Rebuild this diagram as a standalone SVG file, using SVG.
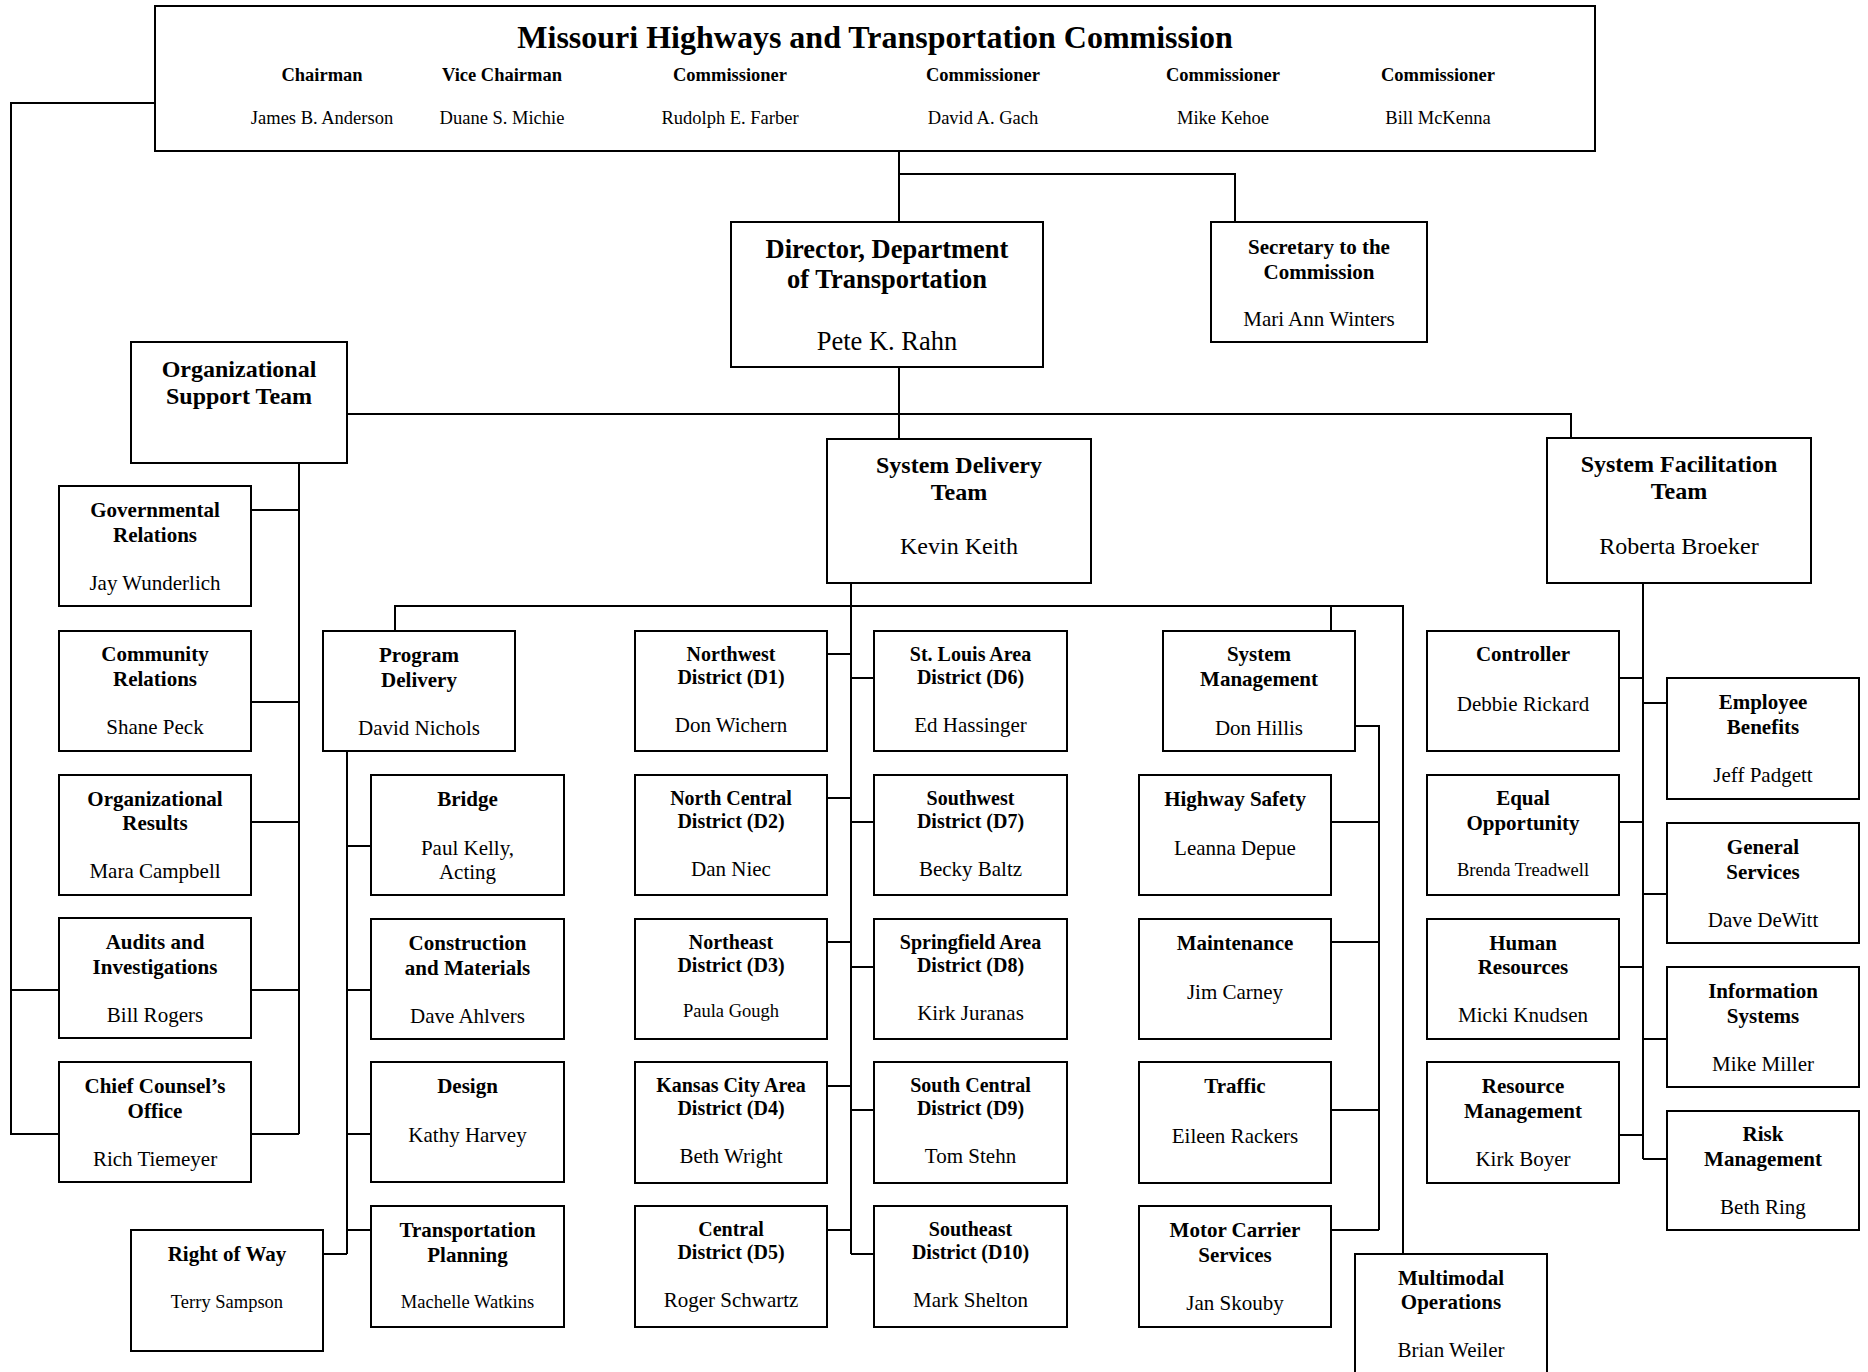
<svg xmlns="http://www.w3.org/2000/svg" width="1868" height="1372" viewBox="0 0 1868 1372">
<style>
.bg{fill:#fff}
.box{fill:#fff;stroke:#000;stroke-width:2}
.con{fill:none;stroke:#000;stroke-width:2}
text{font-family:"Liberation Serif","Times New Roman",serif;text-anchor:middle;fill:#000}
.b{font-weight:bold;font-size:21px}
.n{font-size:21px}
.s{font-size:18.5px}
.d{font-weight:bold;font-size:20px}
.tb{font-weight:bold;font-size:24px}
.tn{font-size:24px}
.cb{font-weight:bold;font-size:18.5px}
.dir{font-weight:bold;font-size:26.5px}
.dirn{font-size:26.5px}
.title{font-weight:bold;font-size:32px}
</style>
<rect class="bg" x="0" y="0" width="1868" height="1372"/>
<g id="connectors">
<path class="con" d="M155,103 H11 V1134 H59"/>
<path class="con" d="M11,990 H59"/>
<path class="con" d="M899,151 V222"/>
<path class="con" d="M899,174 H1235 V222"/>
<path class="con" d="M899,367 V439"/>
<path class="con" d="M347,414 H1571 V438"/>
<path class="con" d="M299,463 V1134"/>
<path class="con" d="M251,510 H299 M251,702 H299 M251,822 H299 M251,990 H299 M251,1134 H299"/>
<path class="con" d="M851,583 V1254"/>
<path class="con" d="M395,631 V606 H1403 V1254"/>
<path class="con" d="M1331,606 V631"/>
<path class="con" d="M347,751 V1254 M347,846 H371 M347,990 H371 M347,1134 H371 M347,1230 H371 M323,1254 H347"/>
<path class="con" d="M827,654 H851 M827,798 H851 M827,942 H851 M827,1086 H851 M827,1230 H851"/>
<path class="con" d="M851,678 H874 M851,822 H874 M851,967 H874 M851,1110 H874 M851,1254 H874"/>
<path class="con" d="M1355,726 H1379 V1230 M1331,822 H1379 M1331,942 H1379 M1331,1110 H1379 M1331,1230 H1379"/>
<path class="con" d="M1643,583 V1159 M1619,678 H1643 M1619,822 H1643 M1619,967 H1643 M1619,1135 H1643"/>
<path class="con" d="M1643,703 H1667 M1643,894 H1667 M1643,1039 H1667 M1643,1159 H1667"/>
</g>
<g id="commission">
<rect class="box" x="155" y="6" width="1440" height="145"/>
<text class="title" x="875" y="47.5">Missouri Highways and Transportation Commission</text>
<text class="cb" x="322" y="81">Chairman</text>
<text class="cb" x="502" y="81">Vice Chairman</text>
<text class="cb" x="730" y="81">Commissioner</text>
<text class="cb" x="983" y="81">Commissioner</text>
<text class="cb" x="1223" y="81">Commissioner</text>
<text class="cb" x="1438" y="81">Commissioner</text>
<text class="s" x="322" y="124">James B. Anderson</text>
<text class="s" x="502" y="124">Duane S. Michie</text>
<text class="s" x="730" y="124">Rudolph E. Farber</text>
<text class="s" x="983" y="124">David A. Gach</text>
<text class="s" x="1223" y="124">Mike Kehoe</text>
<text class="s" x="1438" y="124">Bill McKenna</text>
</g>
<g id="director">
<rect class="box" x="731" y="222" width="312" height="145"/>
<text class="dir" x="887" y="258">Director, Department</text>
<text class="dir" x="887" y="288">of Transportation</text>
<text class="dirn" x="887" y="350">Pete K. Rahn</text>
</g>
<g id="secretary">
<rect class="box" x="1211" y="222" width="216" height="120"/>
<text class="b" x="1319" y="254">Secretary to the</text>
<text class="b" x="1319" y="279">Commission</text>
<text class="n" x="1319" y="326">Mari Ann Winters</text>
</g>
<g id="org-support">
<rect class="box" x="131" y="342" width="216" height="121"/>
<text class="tb" x="239" y="377">Organizational</text>
<text class="tb" x="239" y="404">Support Team</text>
</g>
<g id="system-delivery">
<rect class="box" x="827" y="439" width="264" height="144"/>
<text class="tb" x="959" y="473">System Delivery</text>
<text class="tb" x="959" y="500">Team</text>
<text class="tn" x="959" y="554">Kevin Keith</text>
</g>
<g id="system-facilitation">
<rect class="box" x="1547" y="438" width="264" height="145"/>
<text class="tb" x="1679" y="472">System Facilitation</text>
<text class="tb" x="1679" y="499">Team</text>
<text class="tn" x="1679" y="553.5">Roberta Broeker</text>
</g>
<g id="governmental-relations">
<rect class="box" x="59" y="486" width="192" height="120"/>
<text class="b" x="155" y="517">Governmental</text>
<text class="b" x="155" y="541.5">Relations</text>
<text class="n" x="155" y="589.5">Jay Wunderlich</text>
</g>
<g id="community-relations">
<rect class="box" x="59" y="631" width="192" height="120"/>
<text class="b" x="155" y="661">Community</text>
<text class="b" x="155" y="686">Relations</text>
<text class="n" x="155" y="734">Shane Peck</text>
</g>
<g id="organizational-results">
<rect class="box" x="59" y="775" width="192" height="120"/>
<text class="b" x="155" y="806">Organizational</text>
<text class="b" x="155" y="830">Results</text>
<text class="n" x="155" y="878">Mara Campbell</text>
</g>
<g id="audits">
<rect class="box" x="59" y="918" width="192" height="120"/>
<text class="b" x="155" y="949">Audits and</text>
<text class="b" x="155" y="973.5">Investigations</text>
<text class="n" x="155" y="1021.5">Bill Rogers</text>
</g>
<g id="chief-counsel">
<rect class="box" x="59" y="1062" width="192" height="120"/>
<text class="b" x="155" y="1093">Chief Counsel’s</text>
<text class="b" x="155" y="1117.5">Office</text>
<text class="n" x="155" y="1165.5">Rich Tiemeyer</text>
</g>
<g id="program-delivery">
<rect class="box" x="323" y="631" width="192" height="120"/>
<text class="b" x="419" y="662">Program</text>
<text class="b" x="419" y="686.5">Delivery</text>
<text class="n" x="419" y="734.5">David Nichols</text>
</g>
<g id="bridge">
<rect class="box" x="371" y="775" width="193" height="120"/>
<text class="b" x="467.5" y="806">Bridge</text>
<text class="n" x="467.5" y="855">Paul Kelly,</text>
<text class="n" x="467.5" y="879">Acting</text>
</g>
<g id="construction">
<rect class="box" x="371" y="919" width="193" height="120"/>
<text class="b" x="467.5" y="950">Construction</text>
<text class="b" x="467.5" y="974.5">and Materials</text>
<text class="n" x="467.5" y="1022.5">Dave Ahlvers</text>
</g>
<g id="design">
<rect class="box" x="371" y="1062" width="193" height="120"/>
<text class="b" x="467.5" y="1093">Design</text>
<text class="n" x="467.5" y="1142">Kathy Harvey</text>
</g>
<g id="transportation-planning">
<rect class="box" x="371" y="1206" width="193" height="121"/>
<text class="b" x="467.5" y="1237">Transportation</text>
<text class="b" x="467.5" y="1261.5">Planning</text>
<text class="s" x="467.5" y="1308">Machelle Watkins</text>
</g>
<g id="right-of-way">
<rect class="box" x="131" y="1230" width="192" height="121"/>
<text class="b" x="227" y="1261">Right of Way</text>
<text class="s" x="227" y="1308">Terry Sampson</text>
</g>
<g id="d1">
<rect class="box" x="635" y="631" width="192" height="120"/>
<text class="d" x="731" y="660.5">Northwest</text>
<text class="d" x="731" y="683.5">District (D1)</text>
<text class="n" x="731" y="732">Don Wichern</text>
</g>
<g id="d2">
<rect class="box" x="635" y="775" width="192" height="120"/>
<text class="d" x="731" y="804.5">North Central</text>
<text class="d" x="731" y="827.5">District (D2)</text>
<text class="n" x="731" y="876">Dan Niec</text>
</g>
<g id="d3">
<rect class="box" x="635" y="919" width="192" height="120"/>
<text class="d" x="731" y="948.5">Northeast</text>
<text class="d" x="731" y="971.5">District (D3)</text>
<text class="s" x="731" y="1017">Paula Gough</text>
</g>
<g id="d4">
<rect class="box" x="635" y="1062" width="192" height="121"/>
<text class="d" x="731" y="1091.5">Kansas City Area</text>
<text class="d" x="731" y="1114.5">District (D4)</text>
<text class="n" x="731" y="1163">Beth Wright</text>
</g>
<g id="d5">
<rect class="box" x="635" y="1206" width="192" height="121"/>
<text class="d" x="731" y="1235.5">Central</text>
<text class="d" x="731" y="1258.5">District (D5)</text>
<text class="n" x="731" y="1307">Roger Schwartz</text>
</g>
<g id="d6">
<rect class="box" x="874" y="631" width="193" height="120"/>
<text class="d" x="970.5" y="660.5">St. Louis Area</text>
<text class="d" x="970.5" y="683.5">District (D6)</text>
<text class="n" x="970.5" y="732">Ed Hassinger</text>
</g>
<g id="d7">
<rect class="box" x="874" y="775" width="193" height="120"/>
<text class="d" x="970.5" y="804.5">Southwest</text>
<text class="d" x="970.5" y="827.5">District (D7)</text>
<text class="n" x="970.5" y="876">Becky Baltz</text>
</g>
<g id="d8">
<rect class="box" x="874" y="919" width="193" height="120"/>
<text class="d" x="970.5" y="948.5">Springfield Area</text>
<text class="d" x="970.5" y="971.5">District (D8)</text>
<text class="n" x="970.5" y="1020">Kirk Juranas</text>
</g>
<g id="d9">
<rect class="box" x="874" y="1062" width="193" height="121"/>
<text class="d" x="970.5" y="1091.5">South Central</text>
<text class="d" x="970.5" y="1114.5">District (D9)</text>
<text class="n" x="970.5" y="1163">Tom Stehn</text>
</g>
<g id="d10">
<rect class="box" x="874" y="1206" width="193" height="121"/>
<text class="d" x="970.5" y="1235.5">Southeast</text>
<text class="d" x="970.5" y="1258.5">District (D10)</text>
<text class="n" x="970.5" y="1307">Mark Shelton</text>
</g>
<g id="system-management">
<rect class="box" x="1163" y="631" width="192" height="120"/>
<text class="b" x="1259" y="661">System</text>
<text class="b" x="1259" y="686">Management</text>
<text class="n" x="1259" y="734.5">Don Hillis</text>
</g>
<g id="highway-safety">
<rect class="box" x="1139" y="775" width="192" height="120"/>
<text class="b" x="1235" y="805.5">Highway Safety</text>
<text class="n" x="1235" y="854.5">Leanna Depue</text>
</g>
<g id="maintenance">
<rect class="box" x="1139" y="919" width="192" height="120"/>
<text class="b" x="1235" y="949.5">Maintenance</text>
<text class="n" x="1235" y="998.5">Jim Carney</text>
</g>
<g id="traffic">
<rect class="box" x="1139" y="1062" width="192" height="121"/>
<text class="b" x="1235" y="1093">Traffic</text>
<text class="n" x="1235" y="1142.5">Eileen Rackers</text>
</g>
<g id="motor-carrier">
<rect class="box" x="1139" y="1206" width="192" height="121"/>
<text class="b" x="1235" y="1237">Motor Carrier</text>
<text class="b" x="1235" y="1261.5">Services</text>
<text class="n" x="1235" y="1309.5">Jan Skouby</text>
</g>
<g id="multimodal">
<rect class="box" x="1355" y="1254" width="192" height="130"/>
<text class="b" x="1451" y="1284.5">Multimodal</text>
<text class="b" x="1451" y="1309">Operations</text>
<text class="n" x="1451" y="1357">Brian Weiler</text>
</g>
<g id="controller">
<rect class="box" x="1427" y="631" width="192" height="120"/>
<text class="b" x="1523" y="661">Controller</text>
<text class="n" x="1523" y="710.5">Debbie Rickard</text>
</g>
<g id="equal-opportunity">
<rect class="box" x="1427" y="775" width="192" height="120"/>
<text class="b" x="1523" y="805">Equal</text>
<text class="b" x="1523" y="829.5">Opportunity</text>
<text class="s" x="1523" y="876">Brenda Treadwell</text>
</g>
<g id="human-resources">
<rect class="box" x="1427" y="919" width="192" height="120"/>
<text class="b" x="1523" y="949.5">Human</text>
<text class="b" x="1523" y="974">Resources</text>
<text class="n" x="1523" y="1022">Micki Knudsen</text>
</g>
<g id="resource-management">
<rect class="box" x="1427" y="1062" width="192" height="121"/>
<text class="b" x="1523" y="1093">Resource</text>
<text class="b" x="1523" y="1117.5">Management</text>
<text class="n" x="1523" y="1165.5">Kirk Boyer</text>
</g>
<g id="employee-benefits">
<rect class="box" x="1667" y="678" width="192" height="121"/>
<text class="b" x="1763" y="709">Employee</text>
<text class="b" x="1763" y="733.5">Benefits</text>
<text class="n" x="1763" y="781.5">Jeff Padgett</text>
</g>
<g id="general-services">
<rect class="box" x="1667" y="823" width="192" height="120"/>
<text class="b" x="1763" y="854">General</text>
<text class="b" x="1763" y="878.5">Services</text>
<text class="n" x="1763" y="926.5">Dave DeWitt</text>
</g>
<g id="information-systems">
<rect class="box" x="1667" y="967" width="192" height="120"/>
<text class="b" x="1763" y="998">Information</text>
<text class="b" x="1763" y="1022.5">Systems</text>
<text class="n" x="1763" y="1070.5">Mike Miller</text>
</g>
<g id="risk-management">
<rect class="box" x="1667" y="1111" width="192" height="119"/>
<text class="b" x="1763" y="1141">Risk</text>
<text class="b" x="1763" y="1166">Management</text>
<text class="n" x="1763" y="1214">Beth Ring</text>
</g>
</svg>
